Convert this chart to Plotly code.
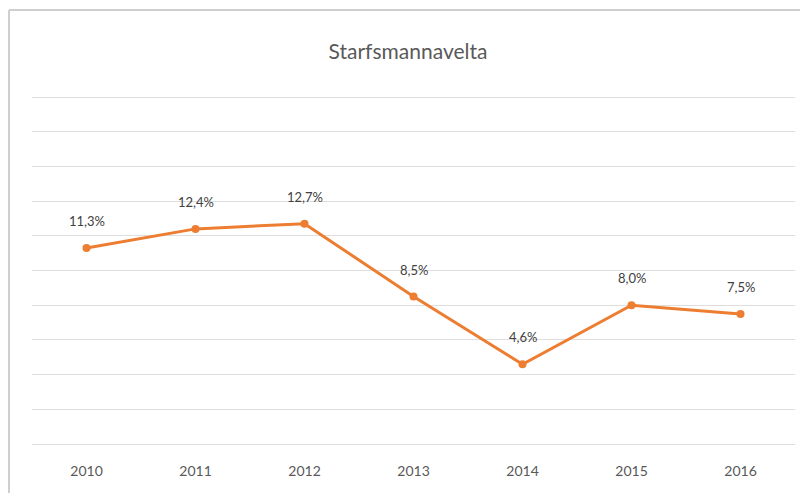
import plotly.graph_objects as go

years = ["2010", "2011", "2012", "2013", "2014", "2015", "2016"]
turnover = [11.3, 12.4, 12.7, 8.5, 4.6, 8.0, 7.5]
title_text = "Starfsmannavelta"

line_color = "#ED7D31"
text_color = "#595959"

fig = go.Figure()
fig.add_trace(go.Scatter(
    x=years, y=turnover, mode="lines+markers",
    line=dict(color=line_color, width=3),
    marker=dict(color=line_color, size=8),
    hoverinfo="skip", showlegend=False,
))

for i, v in enumerate(turnover):
    fig.add_annotation(
        x=i, y=v, text=f"{v:.1f}".replace(".", ",") + "%",
        showarrow=False, yshift=27, yanchor="middle",
        font=dict(family="Lato, sans-serif", size=13, color="#404040"),
    )

# page body has an 8px margin, so the figure is drawn 8px right/down
W, H = 800, 485
L, R, T, B = 24, 13, 88, 49
pw, ph = W - L - R, H - T - B

def px_x(px):
    return (px - L) / pw

def px_y(py):
    return (H - B - py) / ph

# outer chart frame (left and top edges visible)
fig.add_shape(type="line", xref="paper", yref="paper",
              x0=px_x(1), x1=px_x(W), y0=px_y(2), y1=px_y(2),
              line=dict(color="#cfcfcf", width=2))
fig.add_shape(type="line", xref="paper", yref="paper",
              x0=px_x(1), x1=px_x(1), y0=px_y(2), y1=px_y(H),
              line=dict(color="#cfcfcf", width=2))

fig.update_layout(
    width=W, height=H,
    margin=dict(l=L, r=R, t=T, b=B, autoexpand=False),
    paper_bgcolor="white", plot_bgcolor="white",
    title=dict(text=title_text, x=0.5, xanchor="center", y=1 - 44 / H, yanchor="middle",
               font=dict(family="Lato, sans-serif", size=21, color=text_color)),
    xaxis=dict(type="category", range=[-0.5, len(years) - 0.5], showgrid=False,
               zeroline=False, showline=False, ticks="", ticklabelstandoff=17,
               automargin=False,
               tickfont=dict(family="Lato, sans-serif", size=14, color=text_color)),
    yaxis=dict(range=[0, 20.06], dtick=2, showticklabels=False, showgrid=True,
               gridcolor="#dedede", gridwidth=1, zeroline=True, zerolinecolor="#dedede",
               zerolinewidth=1, showline=False, fixedrange=True, automargin=False),
)

fig.write_html("out.html")
